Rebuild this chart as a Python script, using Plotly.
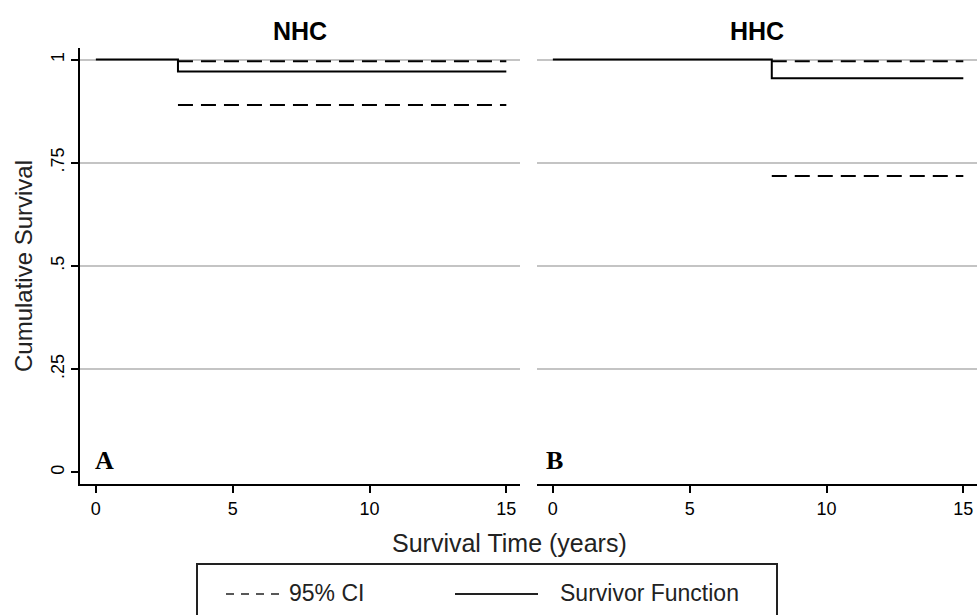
import plotly.graph_objects as go

W, H = 977, 615

# ---- data ----
nhc_time = [0, 3, 15]
nhc_surv = [1.0, 0.971, 0.971]
nhc_ci_time = [3, 15]
nhc_ci_upper = [0.996, 0.996]
nhc_ci_lower = [0.890, 0.890]

hhc_time = [0, 8, 15]
hhc_surv = [1.0, 0.955, 0.955]
hhc_ci_time = [8, 15]
hhc_ci_upper = [0.996, 0.996]
hhc_ci_lower = [0.718, 0.718]

x_ticks = [0, 5, 10, 15]
y_ticks = [0, 0.25, 0.5, 0.75, 1]
y_ticklabels = ["0", ".25", ".5", ".75", "1"]
y_grid = [0.25, 0.5, 0.75, 1]
panel_titles = ["NHC", "HHC"]
panel_letters = ["A", "B"]

def px(x):
    return x / W

def py(y):
    return (H - y) / H

FONT = "Liberation Sans, Arial, sans-serif"
dash_ci = "15px,8px"

fig = go.Figure()

# empty traces so that the grid-only base subplots exist
fig.add_trace(go.Scatter(x=[None], y=[None], xaxis="x", yaxis="y", showlegend=False, hoverinfo="skip"))
fig.add_trace(go.Scatter(x=[None], y=[None], xaxis="x2", yaxis="y2", showlegend=False, hoverinfo="skip"))

panels = [
    (nhc_time, nhc_surv, nhc_ci_time, nhc_ci_upper, nhc_ci_lower, "x", "y3"),
    (hhc_time, hhc_surv, hhc_ci_time, hhc_ci_upper, hhc_ci_lower, "x2", "y4"),
]
for t, s, ct, cu, cl, xa, ya in panels:
    for yy in (cu, cl):
        fig.add_trace(go.Scatter(x=ct, y=yy, mode="lines", xaxis=xa, yaxis=ya,
                                 line=dict(color="black", width=2, dash=dash_ci),
                                 showlegend=False, hoverinfo="skip"))
    fig.add_trace(go.Scatter(x=t, y=s, mode="lines", xaxis=xa, yaxis=ya,
                             line=dict(color="black", width=2, shape="hv"),
                             showlegend=False, hoverinfo="skip"))

y_dom = [py(484), py(48)]
yr = [-0.028, 1.028]
xr = [-0.58, 15.5]

common_x = dict(range=xr, tickvals=x_ticks, ticks="outside", ticklen=7, tickwidth=1.5,
                tickcolor="black", showline=True, linecolor="black", linewidth=2,
                showgrid=False, zeroline=False,
                tickfont=dict(family=FONT, size=18, color="black"), fixedrange=True)
grid_y = dict(range=yr, tickvals=y_grid, showgrid=True, gridcolor="#c4c4c4", gridwidth=1.5,
              zeroline=False, showticklabels=False, ticks="", showline=False, fixedrange=True)

fig.update_layout(
    width=W, height=H,
    margin=dict(l=0, r=0, t=0, b=0),
    paper_bgcolor="white", plot_bgcolor="white",
    showlegend=False,
    xaxis=dict(domain=[px(80), px(520)], anchor="y", **common_x),
    xaxis2=dict(domain=[px(537), 1.0], anchor="y2", **common_x),
    yaxis=dict(domain=y_dom, anchor="x", **grid_y),
    yaxis2=dict(domain=y_dom, anchor="x2", **grid_y),
    yaxis3=dict(anchor="x", overlaying="y", range=yr, tickvals=y_ticks,
                ticktext=y_ticklabels, tickangle=-90, showgrid=False, zeroline=False,
                ticks="outside", ticklen=7, tickwidth=1.5, tickcolor="black",
                showline=True, linecolor="black", linewidth=2, fixedrange=True,
                tickfont=dict(family=FONT, size=18, color="black"),
                title=dict(text="Cumulative Survival",
                           font=dict(family=FONT, size=24, color="#222"), standoff=8)),
    yaxis4=dict(anchor="x2", overlaying="y2", range=yr, showgrid=False, zeroline=False,
                showticklabels=False, ticks="", showline=False, fixedrange=True),
)

annotations = []
for title, xc in zip(panel_titles, [300, 757]):
    annotations.append(dict(text=f"<b>{title}</b>", x=px(xc), y=py(31), xref="paper", yref="paper",
                            showarrow=False, xanchor="center", yanchor="middle",
                            font=dict(family=FONT, size=25, color="black")))
for letter, xc in zip(panel_letters, [104, 554]):
    annotations.append(dict(text=f"<b>{letter}</b>", x=px(xc), y=py(461), xref="paper", yref="paper",
                            showarrow=False, xanchor="center", yanchor="middle",
                            font=dict(family="Liberation Serif, Times New Roman, serif", size=26,
                                      color="black")))
annotations.append(dict(text="Survival Time (years)", x=px(509), y=py(543), xref="paper", yref="paper",
                        showarrow=False, xanchor="center", yanchor="middle",
                        font=dict(family=FONT, size=25, color="#222")))
annotations.append(dict(text="95% CI", x=px(287), y=py(593), xref="paper", yref="paper",
                        showarrow=False, xanchor="left", yanchor="middle",
                        font=dict(family=FONT, size=23, color="#222")))
annotations.append(dict(text="Survivor Function", x=px(558), y=py(593), xref="paper", yref="paper",
                        showarrow=False, xanchor="left", yanchor="middle",
                        font=dict(family=FONT, size=23, color="#222")))
fig.update_layout(annotations=annotations)

shapes = [
    dict(type="rect", xref="paper", yref="paper", x0=px(197), x1=px(777), y0=py(640), y1=py(564),
         line=dict(color="#222", width=2), fillcolor="rgba(0,0,0,0)"),
    dict(type="line", xref="paper", yref="paper", x0=px(226), x1=px(284), y0=py(594), y1=py(594),
         line=dict(color="#222", width=1.5, dash="8px,7px")),
    dict(type="line", xref="paper", yref="paper", x0=px(455), x1=px(538), y0=py(594), y1=py(594),
         line=dict(color="#222", width=2)),
]
fig.update_layout(shapes=shapes)

fig.write_html("out.html")
